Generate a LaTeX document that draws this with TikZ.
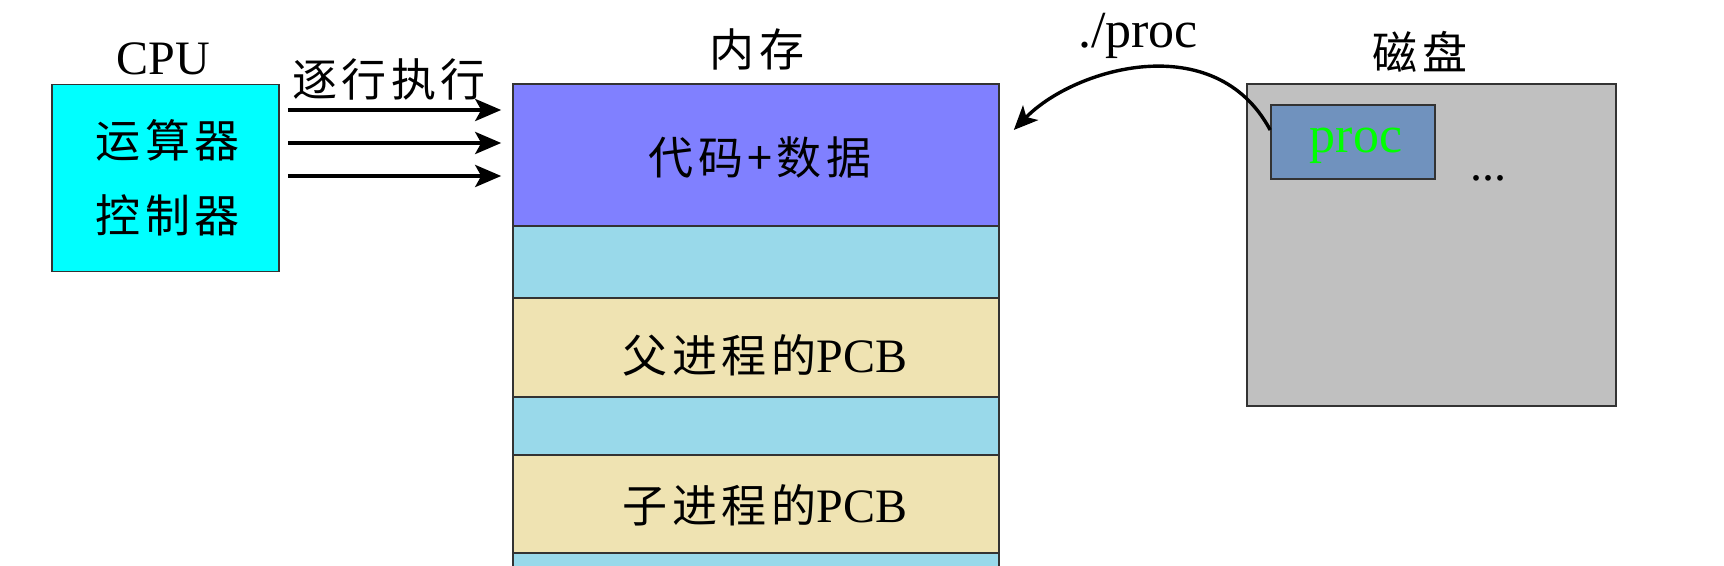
\documentclass[tikz,border=0pt]{standalone}
\usepackage{fontspec}
\setmainfont{Liberation Serif}
\newfontfamily\cjk[LetterSpace=10]{Noto Sans CJK SC}
\usetikzlibrary{arrows.meta}
\definecolor{cpucol}{HTML}{00FFFF}
\definecolor{codecol}{HTML}{8080FF}
\definecolor{freecol}{HTML}{99D9EA}
\definecolor{pcbcol}{HTML}{EFE3B2}
\definecolor{diskcol}{HTML}{C0C0C0}
\definecolor{proccol}{HTML}{7092BE}
\definecolor{procgreen}{HTML}{00FF00}
\definecolor{edgecol}{HTML}{333333}
\tikzset{
  box/.style={draw=edgecol, line width=0.8pt, inner sep=0pt, rectangle},
  memrow/.style={box, minimum width=243pt},
  cjktext/.style={font=\cjk\fontsize{22.5}{26}\selectfont, inner sep=0pt},
  lattext/.style={font=\fontsize{24}{28}\selectfont, inner sep=0pt},
  execarrow/.style={line width=2pt, -{Stealth[length=13pt,width=11pt,inset=3pt]}},
  loadarrow/.style={line width=1.7pt, -{Stealth[length=12pt,width=10.5pt,inset=3pt]}}
}
\begin{document}
\begin{tikzpicture}[x=0.5pt,y=-0.5pt]
\useasboundingbox (0,0) rectangle (1724,566);
\clip (0,0) rectangle (1724,566);
% CPU
\node[box, fill=cpucol, minimum width=113.5pt, minimum height=93.5pt,
      align=center, font=\cjk\fontsize{22.5}{37.5}\selectfont] (cpu) at (165.5,178)
      {\hspace*{2.2pt}运算器\\\hspace*{2.2pt}控制器};
\node[lattext, anchor=base] (cpulabel) at (163,75) {CPU};
% memory rows
\node[memrow, fill=codecol, minimum height=71pt] (mem1) at (756,155) {};
\node[memrow, fill=freecol, minimum height=36pt] (mem2) at (756,262) {};
\node[memrow, fill=pcbcol, minimum height=49.5pt] (mem3) at (756,347.5) {};
\node[memrow, fill=freecol, minimum height=29pt] (mem4) at (756,426) {};
\node[memrow, fill=pcbcol, minimum height=49pt] (mem5) at (756,504) {};
\node[memrow, fill=freecol, minimum height=30pt] (mem6) at (756,583) {};
\node[cjktext] (codetext) at (760,157) {代码+数据};
\node[inner sep=0pt] (pcbtext1) at (765,355) {{\cjk\fontsize{22.5}{26}\selectfont 父进程的}{\fontsize{24}{28}\selectfont PCB}};
\node[inner sep=0pt] (pcbtext2) at (765,505) {{\cjk\fontsize{22.5}{26}\selectfont 子进程的}{\fontsize{24}{28}\selectfont PCB}};
\node[cjktext] (memlabel) at (757,49) {内存};
% disk
\node[box, fill=diskcol, minimum width=184.5pt, minimum height=161pt] (disk) at (1431.5,245) {};
\node[cjktext] (disklabel) at (1420,52) {磁盘};
\node[box, fill=proccol, minimum width=82pt, minimum height=37pt] (proc) at (1353,142) {};
\node[font=\fontsize{26}{30}\selectfont, text=procgreen, inner sep=0pt, anchor=base] (proctext) at (1356,153) {proc};
\node[lattext, anchor=base] (dots) at (1488,181) {...};
% execution arrows
\node[cjktext] (execlabel) at (389,79) {逐行执行};
\coordinate (r1) at (0,110);
\coordinate (r2) at (0,143);
\coordinate (r3) at (0,176);
\draw[execarrow] ([xshift=4pt]cpu.east |- r1) -- ([xshift=-5.5pt]mem1.west |- r1);
\draw[execarrow] ([xshift=4pt]cpu.east |- r2) -- ([xshift=-5.5pt]mem1.west |- r2);
\draw[execarrow] ([xshift=4pt]cpu.east |- r3) -- ([xshift=-5.5pt]mem1.west |- r3);
% load arrow
\coordinate (loadstart) at ([yshift=6pt]proc.west);
\coordinate (loadend) at ([xshift=7pt,yshift=12.5pt]mem1.east);
\draw[loadarrow] (loadstart) .. controls (1215,27) and (1074,68) .. (loadend);
\node[font=\fontsize{26}{30}\selectfont, inner sep=0pt, anchor=base] (loadlabel) at (1138,48) {./proc};
\end{tikzpicture}
\end{document}
